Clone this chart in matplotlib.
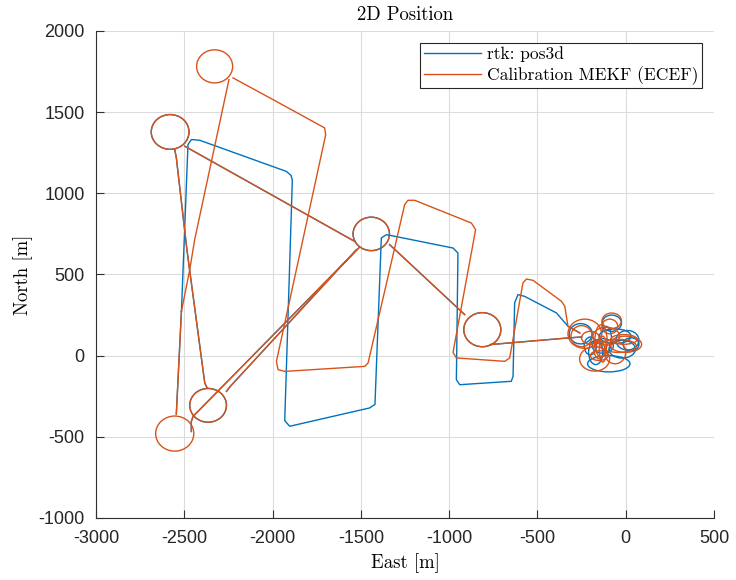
# ================================
# 2D POSITION: RTK vs CALIBRATION MEKF
# ================================

import numpy as np
import matplotlib
matplotlib.use("Agg")
import matplotlib.pyplot as plt
from matplotlib.patches import Ellipse

plt.rcParams["axes.unicode_minus"] = False

# ================================
# DATA (East / North in metres, NaN = break in the track)
# ================================

nan = np.nan

# legs flown identically by both solutions
shared_e = [-770, -327, -250, nan,
            -912, -1337, nan,
            -1535, -2497, nan,
            -2554, -2545, -2485, -2384, -2370, nan,
            -2261, -2240, -1525, nan,
            -2460, -2460, -2450, -1510, nan,
            -2545, -2516]
shared_n = [68, 109, 115, nan,
            253, 684, nan,
            704, 1290, nan,
            1269, 1220, 653, -168, -200, nan,
            -220, -190, 653, nan,
            -467, -405, -374, 665, nan,
            -360, 273]

# rtk survey pattern
rtk_e = [-2516, -2479, -2460, -2413, -1922, -1895, -1888, -1931, -1903, -1450, -1420,
         -1384, -1356, -1330, -978, -950, -959, -940, -648, -638, -629, -610, -572,
         -392, -327, -260]
rtk_n = [273, 1300, 1331, 1327, 1135, 1110, 1080, -400, -435, -322, -300,
         725, 745, 740, 663, 632, -148, -179, -158, -127, 325, 376, 365,
         263, 181, 140]

# MEKF survey pattern
mekf_e = [-2516, -2469, -2441, -2247, nan,
          -2224, -1997, -1705, -1699, -1978, -1969, -1931, -1478, -1459, -1252, -1233,
          -1195, -874, -850, -978, -959, -685, -657, -582, -562, -525, -364, -345,
          -327, -260]
mekf_n = [273, 530, 715, 1700, nan,
          1711, 1577, 1403, 1361, -35, -86, -97, -66, -45, 930, 957,
          957, 817, 776, 20, -14, -35, -14, 448, 472, 464, 335, 304,
          181, 140]

# loiter circles
rtk_loop_e = [-812, -1441, -2580, -2365]
rtk_loop_n = [160, 750, 1378, -306]
rtk_loop_r = [105, 103, 107, 104]

mekf_loop_e = [-812, -1441, -2580, -2365, -2554, -2328]
mekf_loop_n = [160, 750, 1378, -306, -480, 1782]
mekf_loop_r = [105, 103, 107, 104, 108, 102]

# loops over the home area (centre E, centre N, width, height)
rtk_home_e = [-255, -79, 10, -96, -130, -60, -170, -20, -110, 30, -200]
rtk_home_n = [135, 200, 95, -50, 60, 120, 20, 40, 100, 70, 60]
rtk_home_w = [130, 110, 130, 240, 120, 180, 80, 150, 60, 90, 70]
rtk_home_h = [125, 100, 120, 100, 90, 90, 150, 110, 160, 80, 110]

mekf_home_e = [-232, -79, 0, -176, -140, -40, -110, -150, -200, -60, -130, -10,
               -90, -250, -150]
mekf_home_n = [135, 215, 70, -20, 90, 60, 120, 40, 110, 20, 40, 100, 180, 120, 0]
mekf_home_w = [190, 110, 180, 170, 70, 200, 150, 60, 100, 120, 40, 150, 90, 120, 100]
mekf_home_h = [180, 95, 100, 150, 200, 80, 110, 120, 80, 140, 160, 60, 90, 130, 60]

blue = "#0072BD"
orange = "#D95319"
serif = "cmr10"

# ================================
# PLOT
# ================================

fig = plt.figure(figsize=(7.36, 5.8), dpi=100)
ax = fig.add_axes([0.1304, 0.1069, 0.8397, 0.8397])

lw = 1.0

# rtk (blue) first, MEKF (orange) drawn on top
ax.plot(shared_e, shared_n, color=blue, lw=lw)
ax.plot(rtk_e, rtk_n, color=blue, lw=lw, label="rtk: pos3d")
for e, n, r in zip(rtk_loop_e, rtk_loop_n, rtk_loop_r):
    ax.add_patch(Ellipse((e, n), 2 * r, 2 * r, fill=False, ec=blue, lw=lw))
for e, n, w, h in zip(rtk_home_e, rtk_home_n, rtk_home_w, rtk_home_h):
    ax.add_patch(Ellipse((e, n), w, h, fill=False, ec=blue, lw=lw))

ax.plot(shared_e, shared_n, color=orange, lw=lw)
ax.plot(mekf_e, mekf_n, color=orange, lw=lw, label="Calibration MEKF (ECEF)")
for e, n, r in zip(mekf_loop_e, mekf_loop_n, mekf_loop_r):
    ax.add_patch(Ellipse((e, n), 2 * r, 2 * r, fill=False, ec=orange, lw=lw))
for e, n, w, h in zip(mekf_home_e, mekf_home_n, mekf_home_w, mekf_home_h):
    ax.add_patch(Ellipse((e, n), w, h, fill=False, ec=orange, lw=lw))

# ================================
# AXES STYLE (MATLAB-like)
# ================================

ax.set_xlim(-3000, 500)
ax.set_ylim(-1000, 2000)
ax.set_xticks(np.arange(-3000, 501, 500))
ax.set_yticks(np.arange(-1000, 2001, 500))
ax.grid(True, color="#dcdcdc", lw=0.8)
ax.set_axisbelow(True)

for s in ["top", "right"]:
    ax.spines[s].set_visible(False)
for s in ["left", "bottom"]:
    ax.spines[s].set_color("#303030")
    ax.spines[s].set_linewidth(0.8)

ax.tick_params(direction="in", length=6, width=0.8, color="#303030",
               labelsize=13, labelcolor="#262626")
ax.tick_params(axis="x", pad=9)
ax.tick_params(axis="y", pad=8)
for lab in ax.get_xticklabels() + ax.get_yticklabels():
    lab.set_fontfamily("Liberation Sans")

ax.set_title("2D Position", fontfamily=serif, fontsize=13.5, pad=8)
ax.set_xlabel("East [m]", fontfamily=serif, fontsize=13.5, labelpad=4)
ax.set_ylabel("North [m]", fontfamily=serif, fontsize=13.5, labelpad=4)

leg = ax.legend(loc="upper right", prop={"family": serif, "size": 12.5},
                fancybox=False, edgecolor="#262626", framealpha=1,
                handlelength=3.3, borderpad=0.2, labelspacing=0.22,
                borderaxespad=0.7, handletextpad=0.35)
leg.get_frame().set_linewidth(0.8)

fig.savefig("out.png", dpi=100)
